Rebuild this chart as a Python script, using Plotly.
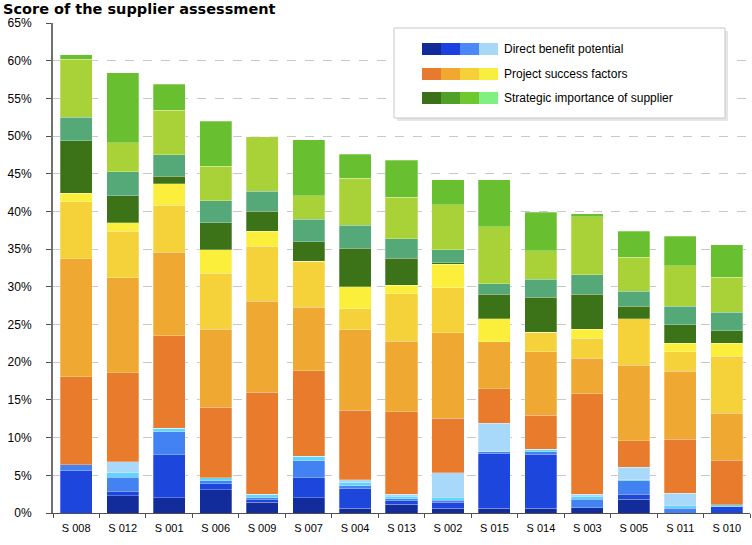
import plotly.graph_objects as go

suppliers = ["S 008", "S 012", "S 001", "S 006", "S 009", "S 007", "S 004", "S 013",
             "S 002", "S 015", "S 014", "S 003", "S 005", "S 011", "S 010"]

# Direct benefit potential (5 sub-criteria)
dbp_1 = [0.0, 2.3, 2.0, 3.1, 1.45, 2.0, 0.6, 1.15, 0.6, 0.6, 0.6, 0.7, 1.8, 0.0, 0.0]
dbp_2 = [5.7, 0.6, 5.7, 0.8, 0.35, 2.7, 2.7, 0.45, 0.8, 7.3, 7.2, 0.0, 0.7, 0.0, 0.85]
dbp_3 = [0.7, 1.85, 3.1, 0.35, 0.2, 2.2, 0.3, 0.3, 0.3, 0.2, 0.3, 1.1, 1.75, 0.66, 0.0]
dbp_4 = [0.0, 0.6, 0.45, 0.45, 0.5, 0.6, 0.4, 0.3, 0.4, 0.0, 0.35, 0.4, 0.15, 0.27, 0.25]
dbp_5 = [0.0, 1.45, 0.0, 0.0, 0.0, 0.0, 0.4, 0.3, 3.25, 3.8, 0.0, 0.3, 1.7, 1.67, 0.0]
# Project success factors
psf_1 = [11.7, 11.8, 12.25, 9.3, 13.5, 11.4, 9.2, 10.9, 7.25, 4.6, 4.55, 13.3, 3.5, 7.2, 5.9]
psf_2 = [15.6, 12.6, 11.1, 10.4, 12.1, 8.4, 10.7, 9.4, 11.3, 6.2, 8.4, 4.7, 10.0, 9.0, 6.2]
psf_3 = [7.6, 6.2, 6.2, 7.4, 7.3, 6.1, 2.8, 6.3, 6.0, 0.0, 2.6, 2.7, 6.2, 2.6, 7.6]
psf_4 = [1.1, 1.1, 2.9, 3.1, 2.0, 0.0, 2.9, 1.1, 3.1, 3.1, 0.0, 1.2, 0.0, 1.1, 1.7]
# Strategic importance of supplier
sis_1 = [7.0, 3.6, 1.0, 3.6, 2.6, 2.6, 5.1, 3.6, 0.2, 3.2, 4.6, 4.6, 1.6, 2.5, 1.7]
sis_2 = [3.1, 3.2, 2.8, 2.9, 2.7, 3.0, 3.1, 2.6, 1.7, 1.4, 2.4, 2.6, 2.0, 2.4, 2.4]
sis_3 = [7.7, 3.8, 5.9, 4.6, 7.2, 3.1, 6.2, 5.5, 6.0, 7.6, 3.8, 7.7, 4.5, 5.4, 4.7]
sis_4 = [0.6, 9.3, 3.5, 6.0, 0.0, 7.4, 3.2, 4.9, 3.3, 6.2, 5.1, 0.4, 3.5, 3.9, 4.3]

series = [dbp_1, dbp_2, dbp_3, dbp_4, dbp_5, psf_1, psf_2, psf_3, psf_4, sis_1, sis_2, sis_3, sis_4]
colors = ["#122c9c", "#1c46dc", "#4282f2", "#60d4fa", "#a8d8fa",
          "#e97b2c", "#efa832", "#f5d23a", "#fbef3c",
          "#3c7318", "#55a878", "#a8d238", "#68c030"]

legend_groups = ["Direct benefit potential", "Project success factors", "Strategic importance of supplier"]
legend_colors = [["#12299a", "#1a40e0", "#4a88f8", "#a8d8f8"],
                 ["#e87a30", "#f0a830", "#f5d038", "#f8ee40"],
                 ["#3a7018", "#50a028", "#70c830", "#80f080"]]

y_ticks = list(range(0, 70, 5))

fig = go.Figure()
for vals, col in zip(series, colors):
    fig.add_trace(go.Bar(x=suppliers, y=vals, marker=dict(color=col, line=dict(color="rgba(255,255,255,0.45)", width=0.6)),
                         showlegend=False, hoverinfo="skip"))

fig.update_layout(
    barmode="stack", bargap=0.31,
    width=752, height=545,
    margin=dict(l=53, r=2, t=23, b=32, autoexpand=False),
    paper_bgcolor="white", plot_bgcolor="white",
    font=dict(family="Liberation Sans, Arial, sans-serif", color="#000000"),
    title=dict(text="<b>Score of the supplier assessment</b>", x=3 / 752, xanchor="left", xref="container",
               y=1 - 4 / 545, yanchor="top", yref="container",
               font=dict(family="DejaVu Sans, Verdana, sans-serif", size=14.5, color="#000000")),
)
fig.update_yaxes(range=[0, 65], tickvals=y_ticks, ticktext=[f"{v}%" for v in y_ticks], automargin=False,
                 showgrid=True, gridcolor="#c8c8c8", griddash="dash", gridwidth=1,
                 showline=True, linecolor="#707070", linewidth=2,
                 ticks="outside", ticklen=5, tickcolor="#505050", ticklabelstandoff=12,
                 tickfont=dict(size=12, color="#000000"), zeroline=False)
fig.update_xaxes(showline=True, linecolor="#505050", linewidth=1, tickson="boundaries", automargin=False,
                 ticks="outside", ticklen=4, tickcolor="#505050",
                 tickfont=dict(size=11, color="#000000"), ticklabelstandoff=5)

# legend box (drawn)
x0, x1, y0, y1 = 394, 725, 28, 118
W, H = 752 - 53 - 2, 545 - 23 - 32
def px(x):
    return (x - 53) / W
def py(y):
    return 1 - (y - 23) / H
fig.add_shape(type="rect", xref="paper", yref="paper", x0=px(x0 + 3), x1=px(x1 + 3), y0=py(y1 + 3), y1=py(y0 + 3),
              line=dict(width=0), fillcolor="#e6e6e6", layer="above")
fig.add_shape(type="rect", xref="paper", yref="paper", x0=px(x0), x1=px(x1), y0=py(y1), y1=py(y0),
              line=dict(color="#c8c8c8", width=1), fillcolor="white", layer="above")
row_y = [49, 74, 98]
for ry, name, cols in zip(row_y, legend_groups, legend_colors):
    for i, c in enumerate(cols):
        fig.add_shape(type="rect", xref="paper", yref="paper",
                      x0=px(422 + i * 19), x1=px(422 + (i + 1) * 19), y0=py(ry + 6), y1=py(ry - 6),
                      line=dict(width=0), fillcolor=c, layer="above")
    fig.add_annotation(xref="paper", yref="paper", x=px(502), y=py(ry), text=name, showarrow=False,
                       xanchor="left", yanchor="middle", font=dict(size=12, color="#000000"))

fig.write_html("out.html", config={"displayModeBar": False},
               post_script="document.body.style.margin='0';document.body.style.overflow='hidden';")
